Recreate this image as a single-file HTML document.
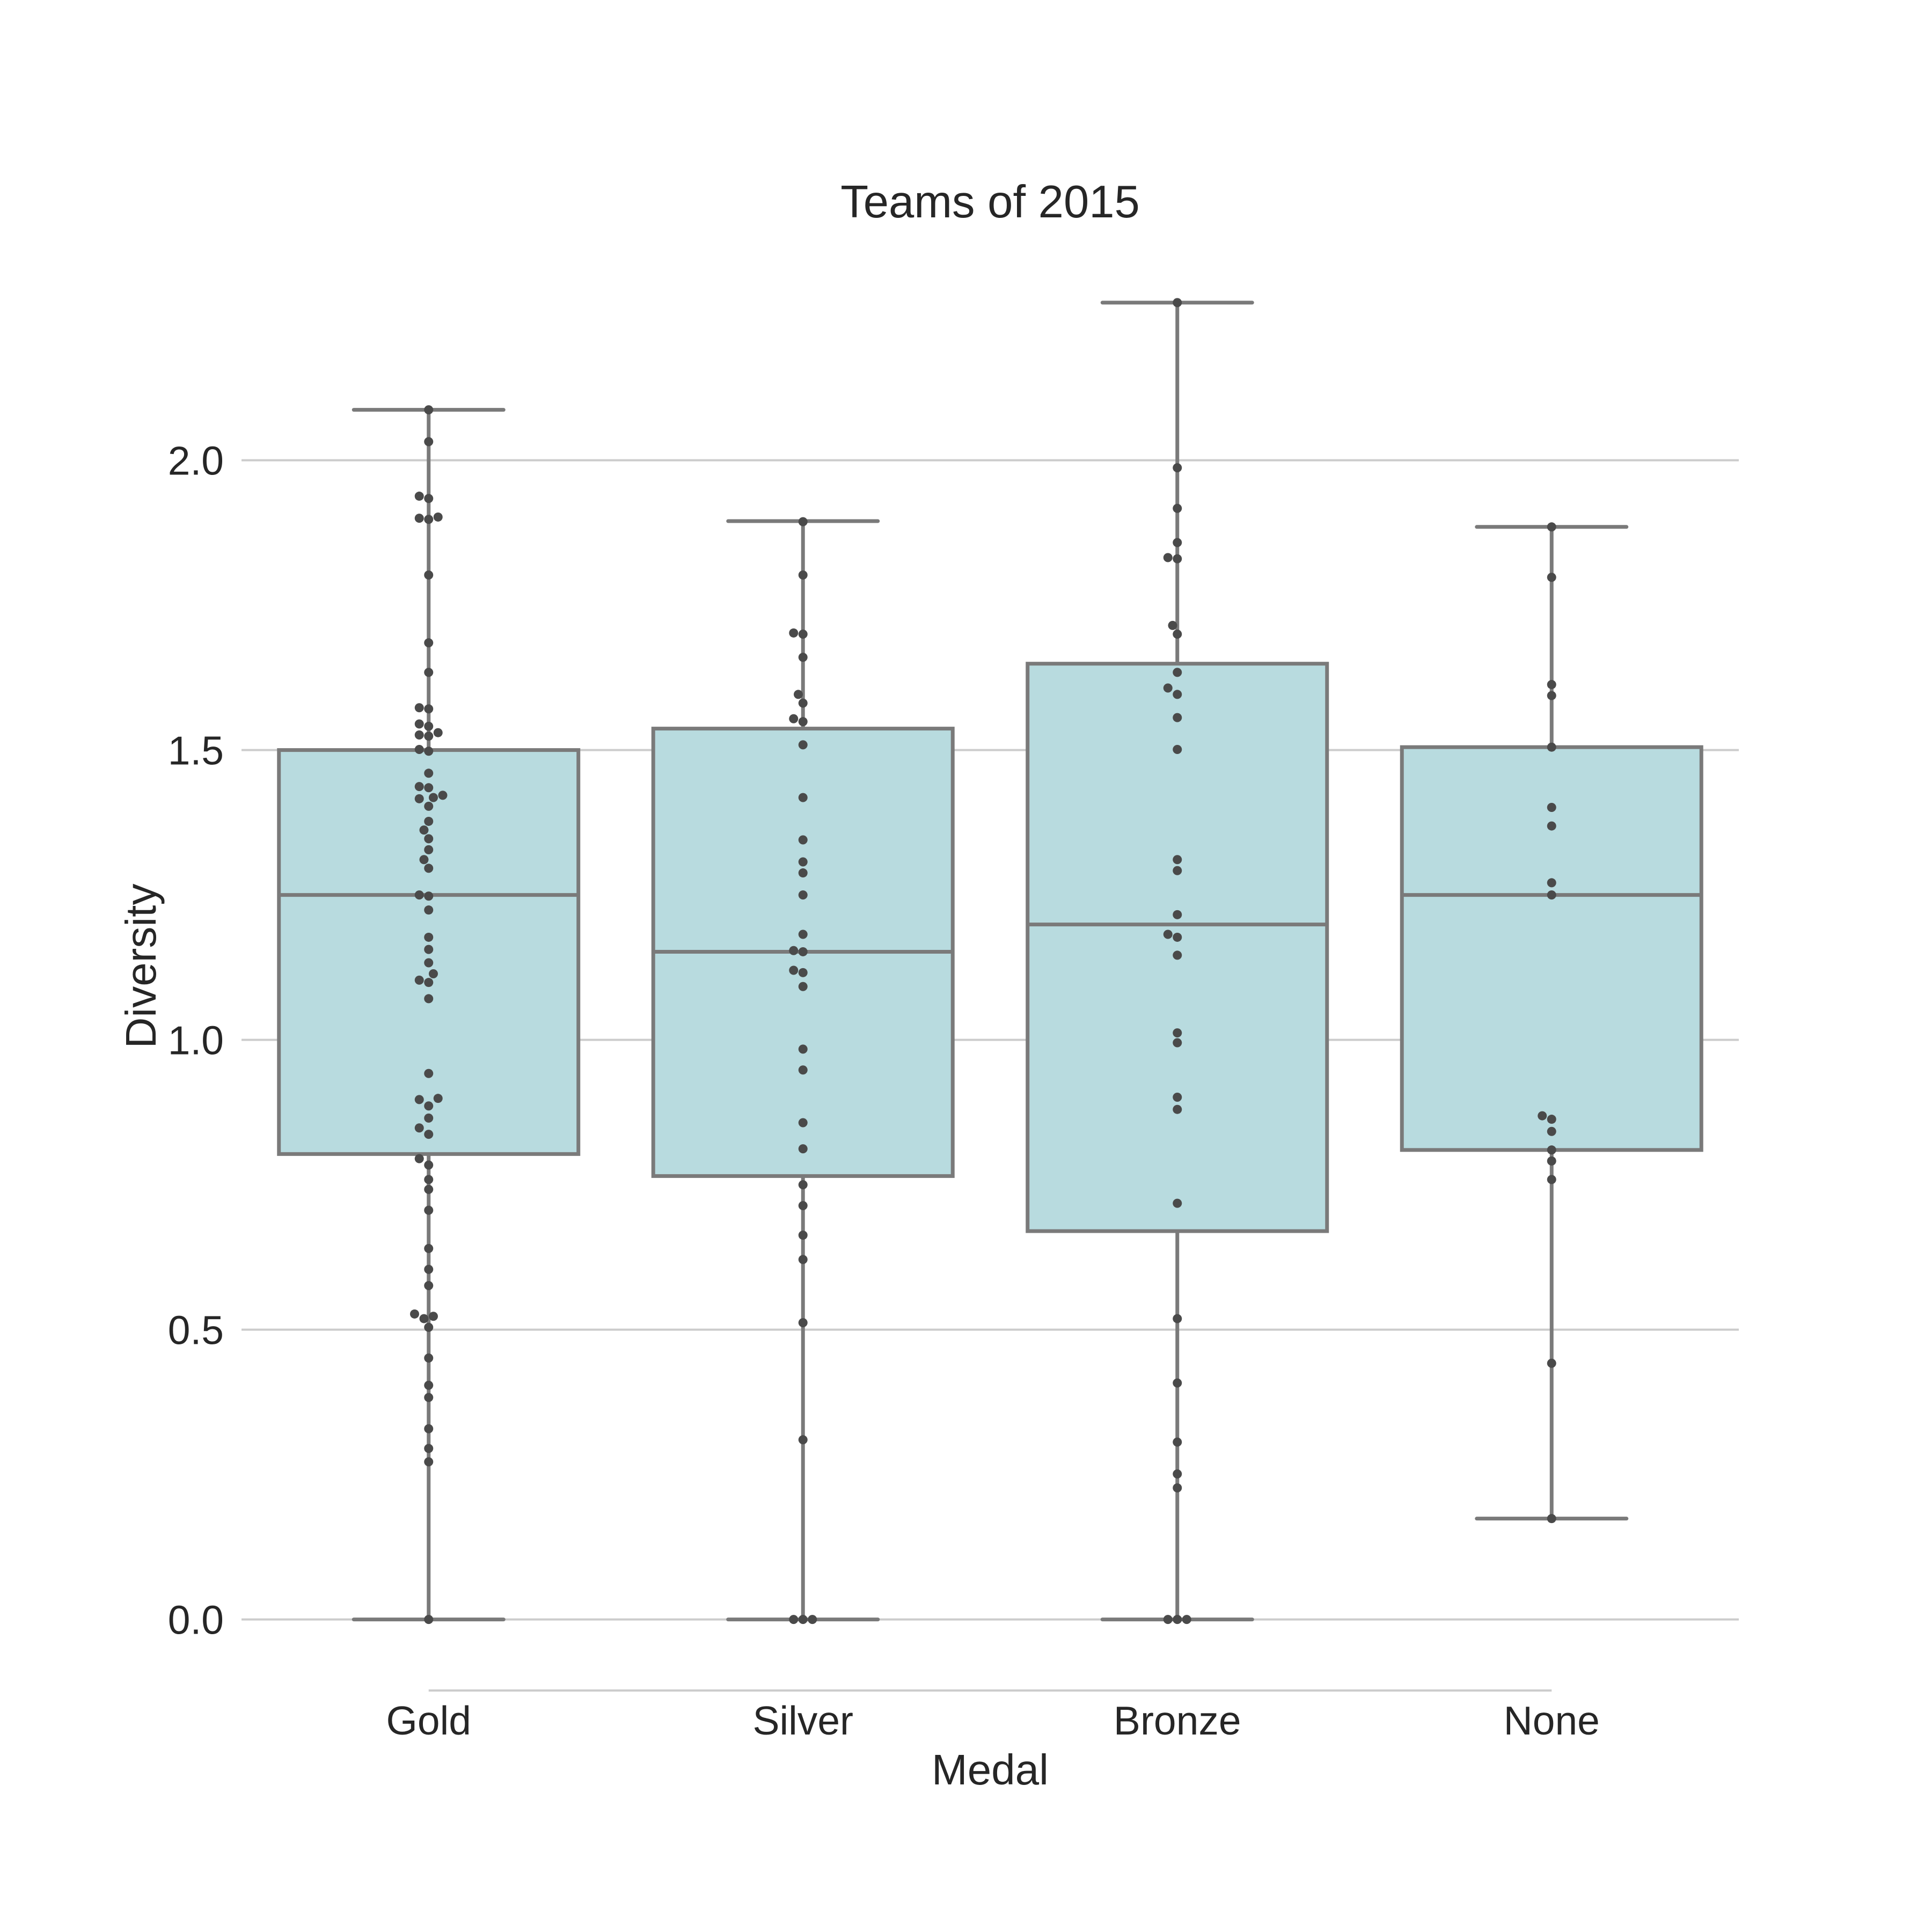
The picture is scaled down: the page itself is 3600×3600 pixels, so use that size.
<!DOCTYPE html>
<html><head><meta charset="utf-8"><style>
html,body{margin:0;padding:0;background:#fff}
svg{display:block}
text{font-family:"Liberation Sans",Arial,sans-serif;fill:#262626}
</style></head><body>
<svg id="chart" width="3600" height="3600" viewBox="0 0 3600 3600" xmlns="http://www.w3.org/2000/svg">
<g id="grid"></g>
<g id="boxes"></g>
<g id="dots"></g>
<g id="axes"></g>
<text x="1845" y="405" font-size="85" text-anchor="middle">Teams of 2015</text>
<text x="1845" y="3325" font-size="80" text-anchor="middle">Medal</text>
<text x="0" y="0" font-size="80" text-anchor="middle" transform="translate(290,1800) rotate(-90)">Diversity</text>
</svg>
<script>
const categories = ["Gold","Silver","Bronze","None"];
const yTicks = [0,0.5,1.0,1.5,2.0];
const yTickLabels = ["0.0","0.5","1.0","1.5","2.0"];
const q1 = [0.803,0.765,0.670,0.810];
const medians = [1.250,1.152,1.199,1.250];
const q3 = [1.500,1.537,1.649,1.505];
const whiskerLow = [0,0,0,0.174];
const whiskerHigh = [2.087,1.895,2.272,1.885];
const goldPoints = [2.087,2.032,1.938,1.934,1.900,1.898,1.902,1.802,1.685,1.634,1.573,1.571,1.545,1.541,1.530,1.526,1.524,1.501,1.498,1.460,1.437,1.435,1.422,1.418,1.416,1.403,1.377,1.362,1.347,1.328,1.311,1.296,1.250,1.248,1.224,1.177,1.156,1.133,1.114,1.103,1.099,1.071,0.942,0.899,0.897,0.886,0.865,0.848,0.837,0.795,0.784,0.759,0.742,0.706,0.640,0.604,0.576,0.527,0.523,0.519,0.504,0.451,0.404,0.383,0.329,0.295,0.272,0];
const silverPoints = [1.894,1.802,1.702,1.700,1.660,1.596,1.581,1.554,1.549,1.509,1.418,1.345,1.307,1.288,1.250,1.182,1.154,1.152,1.120,1.116,1.092,0.984,0.948,0.857,0.812,0.750,0.714,0.663,0.621,0.512,0.310,0,0,0];
const bronzePoints = [2.272,1.987,1.917,1.858,1.832,1.830,1.715,1.700,1.634,1.607,1.596,1.556,1.501,1.311,1.292,1.216,1.182,1.177,1.146,1.012,0.995,0.901,0.880,0.718,0.519,0.408,0.306,0.251,0.227,0,0,0];
const nonePoints = [1.885,1.798,1.613,1.594,1.505,1.401,1.369,1.271,1.250,0.869,0.863,0.842,0.810,0.791,0.759,0.442,0.174];
const allPoints = [goldPoints,silverPoints,bronzePoints,nonePoints];

const NS="http://www.w3.org/2000/svg";
const X0=450, X1=3240, Y0=3017.6, PER=1080;
const step=(X1-X0)/categories.length;
const xPos=i=>X0+step*(i+0.5);
const yPos=v=>Y0-v*PER;
function mk(tag,attrs,parent){const e=document.createElementNS(NS,tag);for(const k in attrs)e.setAttribute(k,attrs[k]);parent.appendChild(e);return e;}
const grid=document.getElementById('grid'),boxes=document.getElementById('boxes'),dots=document.getElementById('dots'),axes=document.getElementById('axes');
yTicks.forEach((t,i)=>{
  const l=mk('line',{x1:X0,x2:X1,y1:yPos(t),y2:yPos(t),stroke:'#cccccc','stroke-width':4},grid);
  
  
  const tx=mk('text',{x:417,y:yPos(t)+27,'font-size':75,'text-anchor':'end'},axes);
  tx.textContent=yTickLabels[i];
  
  
});
const ax=mk('line',{x1:xPos(0),x2:xPos(3),y1:3150,y2:3150,stroke:'#cccccc','stroke-width':4},axes);


const BW=step*0.8, LC='#7a7a7a', LW=7;
categories.forEach((c,i)=>{
  const cx=xPos(i);
  const g=mk('g',{},boxes);
  
  
  mk('line',{x1:cx,x2:cx,y1:yPos(whiskerHigh[i]),y2:yPos(q3[i]),stroke:LC,'stroke-width':LW},g);
  mk('line',{x1:cx,x2:cx,y1:yPos(q1[i]),y2:yPos(whiskerLow[i]),stroke:LC,'stroke-width':LW},g);
  mk('line',{x1:cx-BW/4,x2:cx+BW/4,y1:yPos(whiskerHigh[i]),y2:yPos(whiskerHigh[i]),stroke:LC,'stroke-width':LW,'stroke-linecap':'round'},g);
  mk('line',{x1:cx-BW/4,x2:cx+BW/4,y1:yPos(whiskerLow[i]),y2:yPos(whiskerLow[i]),stroke:LC,'stroke-width':LW,'stroke-linecap':'round'},g);
  mk('rect',{x:cx-BW/2,y:yPos(q3[i]),width:BW,height:yPos(q1[i])-yPos(q3[i]),fill:'#b8dbdf',stroke:LC,'stroke-width':LW},g);
  mk('line',{x1:cx-BW/2,x2:cx+BW/2,y1:yPos(medians[i]),y2:yPos(medians[i]),stroke:LC,'stroke-width':LW},g);
  const tl=mk('text',{x:cx,y:3232,'font-size':75,'text-anchor':'middle'},axes);
  tl.textContent=c;
  
  
  const R=8.5, D=17.5;
  const placed=[];
  const vals=allPoints[i].slice().sort((a,b)=>a-b);
  vals.forEach(v=>{
    const py=yPos(v);
    const cands=[0];
    for(let k=1;k<20;k++){cands.push(-k*D*0.5,k*D*0.5);}
    let best=0;
    for(const o of cands){
      let ok=true;
      for(const p of placed){const dx=p[0]-o,dy=p[1]-py;if(dx*dx+dy*dy<D*D-0.5){ok=false;break;}}
      if(ok){best=o;break;}
    }
    placed.push([best,py]);
    const d=mk('circle',{cx:cx+best,cy:py,r:R,fill:'#4a4a4a'},dots);
    
    
  });
});
</script>
</body></html>
